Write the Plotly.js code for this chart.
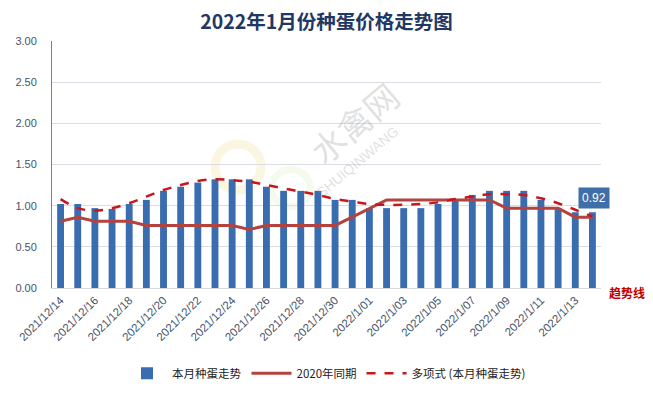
<!DOCTYPE html>
<html>
<head>
<meta charset="utf-8">
<script src="https://cdn.plot.ly/plotly-3.0.1.min.js"></script>
<style>
html,body{margin:0;padding:0;background:#fff;}
#chart{width:653px;height:393px;}
</style>
</head>
<body>
<div id="chart"></div>
<script>
var dates = [
  "2021/12/14","2021/12/15","2021/12/16","2021/12/17","2021/12/18","2021/12/19",
  "2021/12/20","2021/12/21","2021/12/22","2021/12/23","2021/12/24","2021/12/25",
  "2021/12/26","2021/12/27","2021/12/28","2021/12/29","2021/12/30","2021/12/31",
  "2022/1/01","2022/1/02","2022/1/03","2022/1/04","2022/1/05","2022/1/06",
  "2022/1/07","2022/1/08","2022/1/09","2022/1/10","2022/1/11","2022/1/12",
  "2022/1/13","2022/1/14"
];
var thisMonth = [
  1.02,1.02,0.97,0.96,1.02,1.07,1.18,1.23,1.28,1.32,1.32,1.32,
  1.23,1.18,1.18,1.18,1.07,1.07,0.97,0.97,0.97,0.97,1.02,1.07,
  1.13,1.18,1.18,1.18,1.07,0.97,0.92,0.92
];
var sameTime2020 = [
  0.81,0.86,0.81,0.81,0.81,0.76,0.76,0.76,0.76,0.76,0.76,0.71,
  0.76,0.76,0.76,0.76,0.76,0.86,0.97,1.07,1.07,1.07,1.07,1.07,
  1.07,1.07,0.97,0.97,0.97,0.97,0.86,0.86
];
var trend = [
  1.08,0.97,0.94,0.97,1.03,1.11,1.19,1.25,1.30,1.32,1.31,1.29,
  1.25,1.21,1.17,1.13,1.08,1.05,1.02,1.01,1.01,1.02,1.04,1.08,
  1.11,1.14,1.14,1.13,1.09,1.03,0.95,0.87
];
var tickLabels = dates.filter(function(d,i){return i%2===0;});
var yTicks = [0,0.5,1,1.5,2,2.5,3];
var lastLabel = "0.92";

var traces = [
  {type:'bar', x:dates, y:thisMonth, name:'本月种蛋走势',
   marker:{color:'#3A6CB0', line:{width:0}}, width:0.4},
  {type:'scatter', mode:'lines', x:dates, y:sameTime2020, name:'2020年同期',
   line:{color:'#B4423F', width:3}},
  {type:'scatter', mode:'lines', x:dates, y:trend, name:'多项式 (本月种蛋走势)',
   line:{color:'#C8161D', width:2.5, dash:'dash', shape:'spline'}}
];

var layout = {
  width:653, height:393,
  margin:{l:52, r:52, t:41, b:105, autoexpand:false},
  paper_bgcolor:'#fff', plot_bgcolor:'#fff',
  font:{family:'"Noto Sans CJK SC", "Open Sans", sans-serif', color:'#44546A'},
  title:{text:'<b>2022年1月份种蛋价格走势图</b>', x:0.5, xanchor:'center', y:0.943, yanchor:'middle',
         font:{size:19.5, color:'#1F3864', family:'"Noto Sans CJK SC", sans-serif'}},
  showlegend:true,
  legend:{orientation:'h', x:0.5, xanchor:'center', y:-0.345, yanchor:'middle',
          font:{size:11.5, color:'#222'}, traceorder:'normal', itemwidth:40},
  xaxis:{type:'category', tickmode:'array', tickvals:tickLabels, ticktext:tickLabels,
         tickangle:-45, tickfont:{size:11.5, color:'#44546A', family:'"Liberation Sans", sans-serif'},
         showgrid:false, showline:true, linecolor:'#D9D9D9', linewidth:1, ticks:'', zeroline:false,
         automargin:false, range:[-0.5, 31.5]},
  yaxis:{range:[0,3], tickvals:yTicks, tickformat:'.2f', showgrid:true, gridcolor:'#DADDE6', gridwidth:1,
         showline:true, linecolor:'#7F7F7F', linewidth:1, ticks:'', zeroline:false, automargin:false,
         tickfont:{size:11, color:'#44546A', family:'"Liberation Sans", sans-serif'}, ticklabelstandoff:12},
  shapes:[
    {type:'circle', xref:'paper', yref:'paper', x0:0.297, x1:0.381, y0:0.397, y1:0.583,
     line:{color:'rgba(235,215,120,0.22)', width:9}, fillcolor:'rgba(0,0,0,0)', layer:'below'},
    {type:'circle', xref:'paper', yref:'paper', x0:0.40, x1:0.47, y0:0.33, y1:0.48,
     line:{color:'rgba(200,225,160,0.18)', width:7}, fillcolor:'rgba(0,0,0,0)', layer:'below'}
  ],
  annotations:[
    {x:dates[dates.length-1], y:thisMonth[thisMonth.length-1], xref:'x', yref:'y',
     text:lastLabel, showarrow:false, yshift:14, xshift:2,
     font:{size:12, color:'#fff', family:'"Liberation Sans", sans-serif'},
     bgcolor:'#3F6FA8', borderpad:3},
    {x:1.0, y:-0.02, xref:'paper', yref:'paper', xanchor:'left', yanchor:'middle',
     text:'<b>趋势线</b>', showarrow:false, xshift:6,
     font:{size:12, color:'#C00000', family:'"Noto Sans CJK SC", sans-serif'}},
    {x:0.55, y:0.89, xref:'paper', yref:'paper', text:'水禽网', showarrow:false, textangle:-40,
     font:{size:34, color:'rgba(150,150,150,0.3)', family:'"Noto Sans CJK SC", sans-serif'}},
    {x:0.556, y:0.51, xref:'paper', yref:'paper', text:'SHUIQINWANG', showarrow:false, textangle:-40,
     font:{size:14, color:'rgba(150,150,150,0.3)', family:'"Liberation Sans", sans-serif'}}
  ]
};

Plotly.newPlot('chart', traces, layout, {displayModeBar:false, staticPlot:true});
</script>
</body>
</html>
